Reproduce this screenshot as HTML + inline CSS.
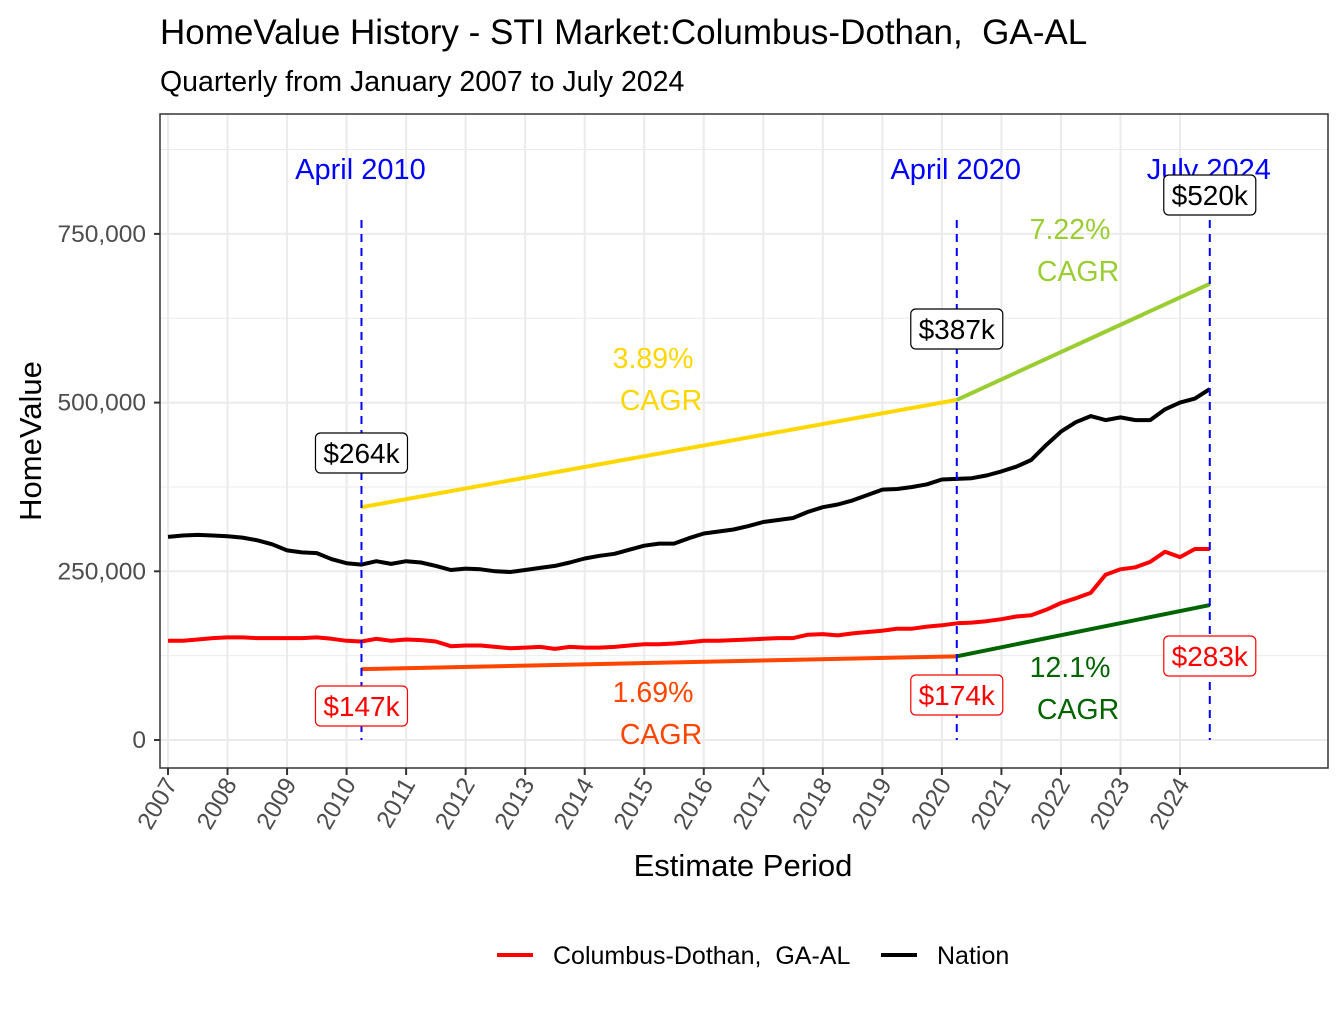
<!DOCTYPE html>
<html><head><meta charset="utf-8"><style>
body{margin:0;background:#fff}
svg{font-family:"Liberation Sans",Arial,sans-serif}
text{white-space:pre}
</style></head><body>
<svg id="chart" width="1344" height="1008" viewBox="0 0 1344 1008" xmlns="http://www.w3.org/2000/svg">
<text x="160" y="44" font-size="35" fill="#000">HomeValue History - STI Market:Columbus-Dothan,&#160; GA-AL</text>
<text x="160" y="91" font-size="28.5" fill="#000">Quarterly from January 2007 to July 2024</text>
<rect x="160" y="114" width="1168" height="654" fill="#fff"/>
<g id="grid"></g>
<g id="marks"></g>
<rect x="160" y="114" width="1168" height="654" fill="none" stroke="#333" stroke-width="1.5"/>
<g id="axes"></g>
<text transform="translate(41,441) rotate(-90)" text-anchor="middle" font-size="31">HomeValue</text>
<text x="743" y="876" text-anchor="middle" font-size="31">Estimate Period</text>
<g>
<line x1="497" y1="955" x2="533" y2="955" stroke="#f00" stroke-width="4"/>
<text x="553" y="964" font-size="25">Columbus-Dothan,&#160; GA-AL</text>
<line x1="881" y1="955" x2="917" y2="955" stroke="#000" stroke-width="4"/>
<text x="937" y="964" font-size="25">Nation</text>
</g>
</svg>
<script>
const years = [2007,2008,2009,2010,2011,2012,2013,2014,2015,2016,2017,2018,2019,2020,2021,2022,2023,2024];
const yTicks = [0,250000,500000,750000];
const yTickLabels = ["0","250,000","500,000","750,000"];
const nationValues = [301,303,304,303, 302,300,296,290, 281,278,277,268, 262,260,265,261, 265,263,258,252, 254,253,250,249, 252,255,258,263, 269,273,276,282, 288,291,291,299, 306,309,312,317, 323,326,329,338, 345,349,355,363, 371,372,375,379, 386,387,388,392, 398,405,415,437, 457,471,480,474, 478,474,474,490, 500,506,520];
const columbusValues = [147,147,149,151, 152,152,151,151, 151,151,152,150, 147,146,150,147, 149,148,146,139, 140,140,138,136, 137,138,135,138, 137,137,138,140, 142,142,143,145, 147,147,148,149, 150,151,151,156, 157,155,158,160, 162,165,165,168, 170,173,174,176, 179,183,185,193, 203,210,218,245, 253,256,264,279, 271,283,283];
const cagrSegments = [
 {name:"nation-cagr-2010-2020", x0:2010.25, v0:345, x1:2020.25, v1:504, color:"#FFD700", pct:"3.89%", lx:653, ly:358},
 {name:"nation-cagr-2020-2024", x0:2020.25, v0:504, x1:2024.5, v1:676, color:"#9ACD32", pct:"7.22%", lx:1070, ly:229},
 {name:"columbus-cagr-2010-2020", x0:2010.25, v0:105, x1:2020.25, v1:124, color:"#FF4500", pct:"1.69%", lx:653, ly:692},
 {name:"columbus-cagr-2020-2024", x0:2020.25, v0:124, x1:2024.5, v1:200, color:"#006400", pct:"12.1%", lx:1070, ly:667}
];
const markerDates = [2010.25, 2020.25, 2024.5];
const markerLabels = ["April 2010","April 2020","July 2024"];
const nationLabels = ["$264k","$387k","$520k"];
const columbusLabels = ["$147k","$174k","$283k"];

const NS="http://www.w3.org/2000/svg";
const X = t => 168 + (t-2007)*59.53;
const Y = v => 740 - v/250000*168.7;
const Yk = v => Y(v*1000);
function mk(tag, attrs, parent, txt){const e=document.createElementNS(NS,tag);for(const k in attrs)e.setAttribute(k,attrs[k]);if(txt!==undefined)e.textContent=txt;parent.appendChild(e);return e;}
const grid=document.getElementById('grid'), marks=document.getElementById('marks'), axes=document.getElementById('axes');

[125000,375000,625000,875000].forEach(v=>{const l=mk('line',{x1:160,x2:1328,y1:Y(v),y2:Y(v),stroke:'#ebebeb','stroke-width':1},grid);

});
yTicks.forEach((v,i)=>{const l=mk('line',{x1:160,x2:1328,y1:Y(v),y2:Y(v),stroke:'#ebebeb','stroke-width':2},grid);


const t=mk('line',{x1:154,x2:160,y1:Y(v),y2:Y(v),stroke:'#333','stroke-width':2},axes);


const tx=mk('text',{x:146,y:Y(v)+8,'text-anchor':'end','font-size':24.5,fill:'#4d4d4d'},axes,yTickLabels[i]);

});
years.forEach(yr=>{const x=X(yr);const l=mk('line',{x1:x,x2:x,y1:114,y2:768,stroke:'#ebebeb','stroke-width':2},grid);


const t=mk('line',{x1:x,x2:x,y1:768,y2:775,stroke:'#333','stroke-width':2},axes);


const tx=mk('text',{transform:`translate(${x+10},${784}) rotate(-60)`,'text-anchor':'end','font-size':24.5,fill:'#4d4d4d'},axes,String(yr));

});

function series(vals,color,name){const pts=vals.map((v,i)=>X(2007+i*0.25).toFixed(1)+','+Yk(v).toFixed(1)).join(' ');
const p=mk('polyline',{points:pts,fill:'none',stroke:color,'stroke-width':4,'stroke-linejoin':'round'},marks);

}
series(nationValues,'#000','nation-line');
series(columbusValues,'#f00','columbus-line');

cagrSegments.forEach(s=>{const l=mk('line',{x1:X(s.x0),y1:Yk(s.v0),x2:X(s.x1),y2:Yk(s.v1),stroke:s.color,'stroke-width':4},marks);


const a=mk('text',{x:s.lx,y:s.ly+10,'text-anchor':'middle','font-size':28.5,fill:s.color},marks,s.pct);


const b=mk('text',{x:s.lx+8,y:s.ly+52,'text-anchor':'middle','font-size':28.5,fill:s.color},marks,'CAGR');

});

function box(x,y,txt,color,name){const w=txt.length*15.6+14;const r=mk('rect',{x:x-w/2,y:y-20,width:w,height:40,rx:5,fill:'#fff',stroke:color,'stroke-width':1.2},marks);


const t=mk('text',{x:x,y:y+10,'text-anchor':'middle','font-size':28,fill:color},marks,txt);

}

markerDates.forEach((d,i)=>{const x=X(d);const l=mk('line',{x1:x,x2:x,y1:220,y2:740,stroke:'#00f','stroke-width':2,'stroke-dasharray':'8,6'},marks);


const t=mk('text',{x:x-1,y:179,'text-anchor':'middle','font-size':29,fill:'#00f'},marks,markerLabels[i]);

});
const nY=[453,329,195], cY=[706,695,656];
markerDates.forEach((d,i)=>{box(X(d),nY[i],nationLabels[i],'#000','nation-value-label');box(X(d),cY[i],columbusLabels[i],'#f00','columbus-value-label');});
</script>
</body></html>
